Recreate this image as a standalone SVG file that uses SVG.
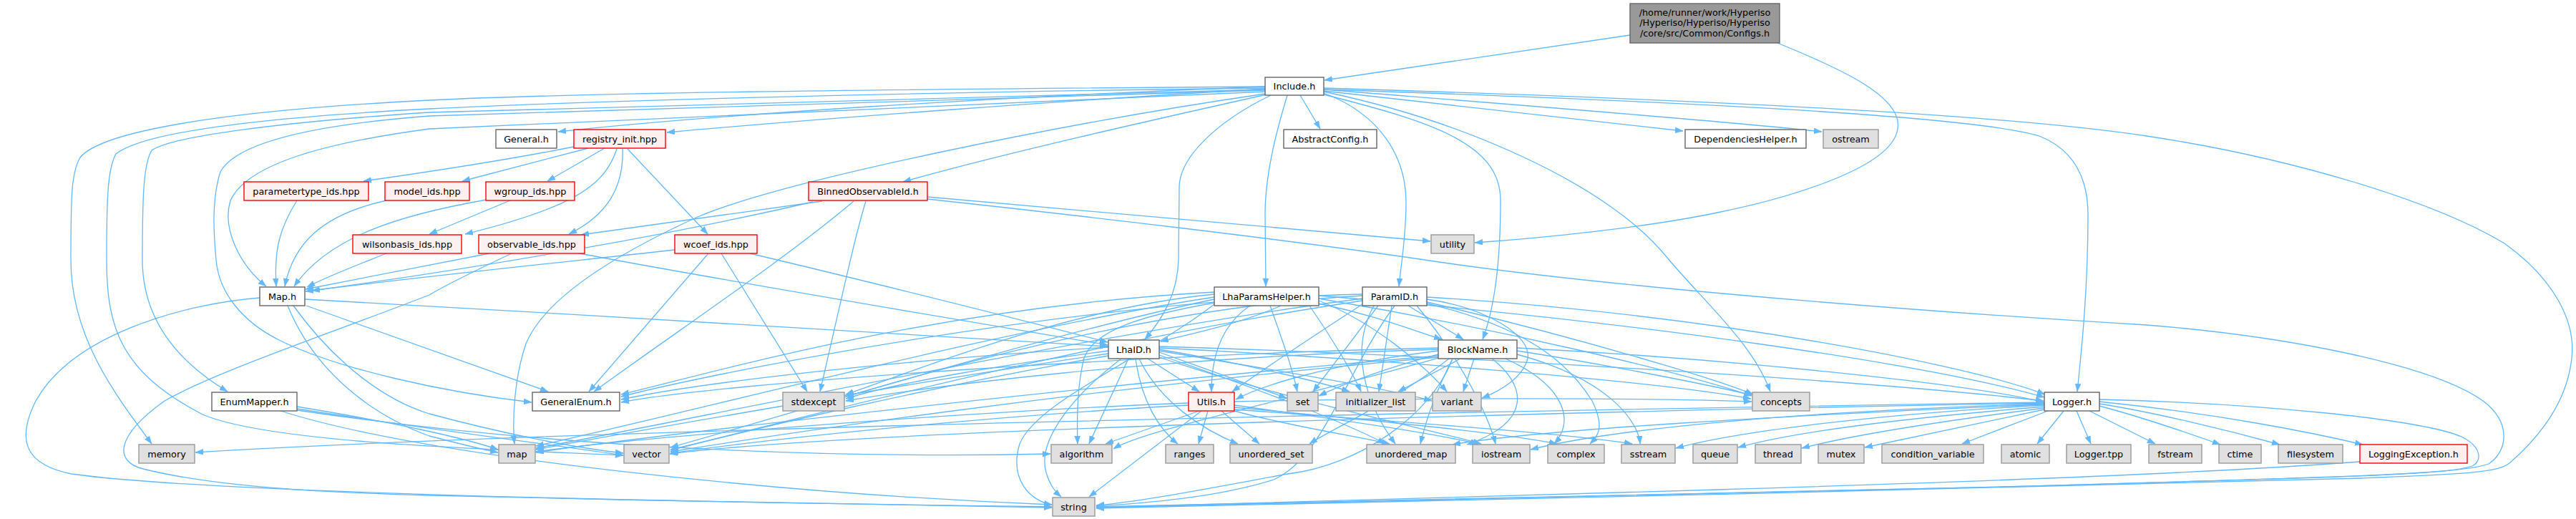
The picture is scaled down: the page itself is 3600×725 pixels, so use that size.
<svg xmlns="http://www.w3.org/2000/svg" width="3600" height="725" viewBox="0 0 3600 725">
<style>
rect{stroke-width:1.4}
.w rect{fill:#ffffff;stroke:#666666}
.r rect{fill:#fff0f0;stroke:#ff0000}
.g rect{fill:#e0e0e0;stroke:#999999}
.root rect{fill:#999999;stroke:#666666}
text{font-family:"DejaVu Sans","Liberation Sans",sans-serif;font-size:12.8px;fill:#000000;text-anchor:middle}
.e path{fill:none;stroke:#63b8ff;stroke-width:1.3;marker-end:url(#a)}
</style>
<defs>
<marker id="a" markerUnits="userSpaceOnUse" markerWidth="12" markerHeight="9" refX="11" refY="4" orient="auto">
<path d="M0,0 L11,4 L0,8 z" fill="#63b8ff" stroke="#63b8ff" stroke-width="0.5"/>
</marker>
</defs>
<rect width="3600" height="725" fill="#ffffff"/>
<g id="edges" class="e">
<path d="M2278,49 L1851,112"/>
<path d="M2484,60 C2570,95 2660,135 2652,180 C2644,240 2470,283 2400,297 C2300,318 2150,333 2061,339"/>
<path d="M1768,121 C1400,135 1000,160 780,184"/>
<path d="M1768,124 C1500,140 1150,165 932,185"/>
<path d="M1770,132 C1600,170 1400,215 1262,254"/>
<path d="M1817,133 L1845,180"/>
<path d="M1850,127 L2352,183"/>
<path d="M1850,125 C2100,145 2400,168 2546,184"/>
<path d="M1776,133 C1700,170 1648,220 1648,262 L1647,362 C1646,410 1625,445 1600,474"/>
<path d="M1799,133 C1785,180 1768,240 1768,300 L1769,400"/>
<path d="M1850,130 C1930,160 1965,220 1965,283 C1965,330 1958,370 1955,400"/>
<path d="M1850,132 C2000,170 2097,200 2097,280 C2097,380 2085,440 2072,474"/>
<path d="M1850,128 C2050,170 2250,260 2330,360 C2380,420 2450,480 2474,547"/>
<path d="M1850,125 C2300,140 2750,160 2850,190 C2900,210 2918,250 2918,300 C2918,400 2910,480 2903,547"/>
<path d="M1850,123 C2400,140 2800,160 3000,190 C3200,220 3400,280 3500,340 C3570,390 3600,450 3594,500 C3588,560 3550,610 3507,647 C3490,660 3450,662 3300,668 C2800,682 2000,700 1532,710"/>
<path d="M1768,131 C1500,170 1100,250 975,303 C850,360 760,420 735,480 C718,530 716,590 719,620"/>
<path d="M1768,121 C1200,125 800,130 600,140 C300,155 140,185 112,220 C100,240 99,270 99,363 C99,470 160,550 212,620"/>
<path d="M1768,123 C1200,130 800,142 600,152 C350,165 200,185 162,215 C151,235 149,270 149,363 C149,460 170,520 283,579 C380,620 700,628 871,636"/>
<path d="M1768,125 C1200,137 800,150 600,157 C400,170 240,190 212,210 C200,230 199,280 199,363 C199,440 240,500 318,547"/>
<path d="M1768,126 C1200,142 800,155 600,162 C430,175 330,200 308,240 C295,280 299,330 302,363 C306,410 340,450 390,475 C470,515 620,548 743,562"/>
<path d="M1768,128 C1200,150 750,170 600,180 C450,200 345,230 322,280 C310,320 335,370 372,400"/>
<path d="M802,205 C700,225 600,240 508,253"/>
<path d="M822,207 L646,253"/>
<path d="M845,207 L765,253"/>
<path d="M862,208 C845,260 800,290 650,327"/>
<path d="M870,208 C872,260 850,300 795,327"/>
<path d="M877,208 L989,327"/>
<path d="M415,280 C390,320 383,350 386,400"/>
<path d="M540,280 C450,300 410,340 398,400"/>
<path d="M680,279 C560,300 460,330 411,400"/>
<path d="M713,280 L600,327"/>
<path d="M540,354 C500,370 460,385 429,401"/>
<path d="M684,354 C600,370 500,390 427,404"/>
<path d="M810,354 C1000,390 1300,440 1548,482"/>
<path d="M715,354 C660,380 620,400 600,412 C450,470 300,520 230,560 C160,610 160,645 200,655 C300,680 450,688 600,692 C900,700 1300,705 1470,709"/>
<path d="M943,349 C800,365 600,385 427,407"/>
<path d="M990,354 L823,547"/>
<path d="M1008,354 L1128,547"/>
<path d="M1048,354 C1200,390 1400,440 1548,478"/>
<path d="M1149,281 L812,328"/>
<path d="M1136,282 C950,325 700,370 436,406"/>
<path d="M1193,281 C1100,360 950,460 830,547"/>
<path d="M1210,281 C1195,330 1180,400 1146,547"/>
<path d="M1296,275 L1999,337"/>
<path d="M1296,278 C1500,300 1800,335 1991,363 C2200,395 2600,430 3000,454 C3200,470 3400,510 3470,560 C3510,590 3505,630 3478,648 C3440,662 3300,666 2800,680 C2200,697 1700,706 1532,709"/>
<path d="M428,427 L766,547"/>
<path d="M402,427 C440,520 520,580 600,609 C650,622 675,628 696,632"/>
<path d="M410,427 C470,510 540,560 600,578 C700,605 800,625 871,633"/>
<path d="M363,416 C250,425 100,470 50,560 C20,620 40,650 100,662 C300,690 1000,702 1470,708"/>
<path d="M426,418 C800,440 1200,460 1548,484"/>
<path d="M415,568 C550,590 650,612 696,628"/>
<path d="M415,571 C600,600 780,622 871,636"/>
<path d="M392,574 C600,640 1100,690 1470,705"/>
<path d="M415,573 C800,630 1200,640 1468,634"/>
<path d="M1790,427 C1740,450 1670,465 1622,477"/>
<path d="M1747,427 C1705,455 1693,500 1693,547"/>
<path d="M1775,427 C1790,470 1805,510 1813,547"/>
<path d="M1843,424 C1920,440 1970,460 2015,474"/>
<path d="M1830,427 C1860,470 1890,520 1902,547"/>
<path d="M1843,420 C1920,450 1990,510 2022,547"/>
<path d="M1697,408 C1300,430 1000,520 868,551"/>
<path d="M1697,411 C1500,430 1300,510 1182,551"/>
<path d="M1697,415 C1400,460 950,580 749,623"/>
<path d="M1697,418 C1450,470 1100,580 937,625"/>
<path d="M1697,425 C1600,500 1450,560 1425,620 C1410,670 1440,700 1470,705"/>
<path d="M1697,423 C1600,440 1530,460 1515,500 C1505,540 1505,590 1506,620"/>
<path d="M1843,417 C2100,460 2350,520 2448,553"/>
<path d="M1843,413 C2300,450 2700,510 2857,555"/>
<path d="M1968,427 L2045,474"/>
<path d="M1945,427 L1927,547"/>
<path d="M1926,427 L1835,547"/>
<path d="M1994,418 C2080,430 2140,470 2135,500 C2130,525 2100,545 2071,556"/>
<path d="M1904,425 C1850,460 1760,520 1722,547"/>
<path d="M1904,411 C1500,420 1000,520 868,554"/>
<path d="M1904,413 C1600,430 1300,520 1182,554"/>
<path d="M1904,417 C1500,470 950,590 749,626"/>
<path d="M1904,420 C1500,480 1100,590 937,628"/>
<path d="M1949,427 C1880,520 1850,640 1780,670 C1700,695 1600,703 1532,707"/>
<path d="M1994,422 C2200,470 2400,530 2450,551"/>
<path d="M1994,415 C2400,440 2750,510 2858,551"/>
<path d="M1994,424 C2150,460 2200,520 2225,560 C2245,600 2230,612 2222,620"/>
<path d="M1920,427 C1880,500 1920,580 1950,620"/>
<path d="M1980,427 C2040,500 2080,580 2090,620"/>
<path d="M1567,501 C1490,560 1450,620 1462,660 C1468,680 1476,688 1483,694"/>
<path d="M1577,501 L1522,620"/>
<path d="M1587,501 C1595,560 1620,600 1646,620"/>
<path d="M1592,501 C1620,560 1680,600 1730,620"/>
<path d="M1604,501 L1676,547"/>
<path d="M1620,492 L1798,556"/>
<path d="M1620,490 C1800,520 1950,545 2001,560"/>
<path d="M1620,488 C1750,510 1850,535 1886,547"/>
<path d="M1620,486 C1900,500 2300,530 2447,557"/>
<path d="M1620,484 C2000,495 2600,530 2856,560"/>
<path d="M1620,496 C1750,540 1880,590 1936,620"/>
<path d="M1549,485 C1300,500 1000,530 868,558"/>
<path d="M1549,490 C1400,510 1250,535 1182,557"/>
<path d="M1549,494 C1300,530 900,600 749,628"/>
<path d="M1549,497 C1300,540 1050,600 937,629"/>
<path d="M1620,499 C1800,560 2000,600 2070,620"/>
<path d="M2060,501 L2045,547"/>
<path d="M2041,501 L1954,547"/>
<path d="M2010,495 C1950,510 1880,535 1843,553"/>
<path d="M2010,490 C1850,510 1760,540 1727,558"/>
<path d="M2010,486 C1600,495 1000,535 868,562"/>
<path d="M2010,488 C1600,500 1300,540 1182,560"/>
<path d="M2010,497 C1500,540 900,610 749,632"/>
<path d="M2010,499 C1500,545 1100,605 937,631"/>
<path d="M2030,501 C2000,580 1900,650 1800,662 C1700,680 1600,700 1532,706"/>
<path d="M2120,490 C2250,510 2400,540 2448,552"/>
<path d="M2120,486 C2400,500 2750,535 2856,562"/>
<path d="M2030,501 C2000,560 1990,600 1985,620"/>
<path d="M2085,501 C2135,540 2140,590 2050,621"/>
<path d="M2104,501 C2190,540 2200,590 2172,620"/>
<path d="M2120,495 C2250,530 2290,590 2292,620"/>
<path d="M2010,500 C1800,560 1600,600 1556,627"/>
<path d="M2025,501 C1950,560 1860,600 1830,620"/>
<path d="M1676,574 L1545,620"/>
<path d="M1688,574 L1675,620"/>
<path d="M1707,574 L1760,620"/>
<path d="M1679,574 L1522,694"/>
<path d="M1661,566 C1400,580 1100,610 937,633"/>
<path d="M1661,563 C1350,575 900,610 749,631"/>
<path d="M1725,566 C1900,590 2000,605 2066,620"/>
<path d="M1725,569 C1950,590 2100,605 2176,620"/>
<path d="M1725,572 C2000,592 2200,607 2281,620"/>
<path d="M1725,561 C2000,555 2300,556 2448,561"/>
<path d="M1725,574 C1800,595 1900,610 1942,620"/>
<path d="M2862,574 L2742,620"/>
<path d="M2884,574 L2847,620"/>
<path d="M2902,574 L2922,620"/>
<path d="M2920,574 L3012,620"/>
<path d="M2934,567 C2990,582 3050,602 3103,621"/>
<path d="M2934,564 C3010,576 3110,600 3186,621"/>
<path d="M2934,561 C3100,578 3230,604 3302,621"/>
<path d="M2934,558 C3150,563 3380,585 3440,610 C3470,625 3468,645 3455,651 C3420,663 3300,666 2800,680 C2200,697 1700,707 1532,708"/>
<path d="M2857,572 L2606,625"/>
<path d="M2857,570 C2700,590 2580,610 2518,626"/>
<path d="M2857,568 C2650,585 2500,605 2429,625"/>
<path d="M2857,566 C2600,580 2420,605 2342,626"/>
<path d="M2857,564 C2500,575 2250,600 2139,628"/>
<path d="M2857,562 C2000,575 800,600 273,632"/>
<path d="M2857,565 C2500,580 2150,600 2030,621"/>
<path d="M2857,563 C2200,575 1200,600 936,634"/>
<path d="M3298,645 C3100,660 2800,672 2400,684 C2000,696 1700,706 1532,709"/>
</g>
<g id="node_root" class="root"><rect x="2278" y="5" width="209" height="55"/><text x="2382.5" y="21.5">/home/runner/work/Hyperiso</text><text x="2382.5" y="36">/Hyperiso/Hyperiso/Hyperiso</text><text x="2382.5" y="50.5">/core/src/Common/Configs.h</text></g>
<g id="node_include" class="w"><rect x="1768" y="108" width="82" height="25"/><text x="1809" y="125">Include.h</text></g>
<g id="node_general" class="w"><rect x="693" y="181" width="85" height="26"/><text x="735.5" y="198.5">General.h</text></g>
<g id="node_registry" class="r"><rect x="802" y="181" width="128" height="26"/><text x="866" y="198.5">registry_init.hpp</text></g>
<g id="node_abstractconfig" class="w"><rect x="1794" y="181" width="130" height="26"/><text x="1859" y="198.5">AbstractConfig.h</text></g>
<g id="node_dependencies" class="w"><rect x="2355" y="181" width="169" height="26"/><text x="2439.5" y="198.5">DependenciesHelper.h</text></g>
<g id="node_ostream" class="g"><rect x="2548" y="181" width="77" height="26"/><text x="2586.5" y="198.5">ostream</text></g>
<g id="node_parametertype" class="r"><rect x="341" y="254" width="174" height="26"/><text x="428" y="271.5">parametertype_ids.hpp</text></g>
<g id="node_model" class="r"><rect x="538" y="254" width="118" height="26"/><text x="597" y="271.5">model_ids.hpp</text></g>
<g id="node_wgroup" class="r"><rect x="679" y="254" width="124" height="26"/><text x="741" y="271.5">wgroup_ids.hpp</text></g>
<g id="node_binned" class="r"><rect x="1130" y="254" width="166" height="26"/><text x="1213" y="271.5">BinnedObservableId.h</text></g>
<g id="node_wilsonbasis" class="r"><rect x="493" y="328" width="152" height="26"/><text x="569" y="345.5">wilsonbasis_ids.hpp</text></g>
<g id="node_observable" class="r"><rect x="669" y="328" width="148" height="26"/><text x="743" y="345.5">observable_ids.hpp</text></g>
<g id="node_wcoef" class="r"><rect x="943" y="328" width="115" height="26"/><text x="1000.5" y="345.5">wcoef_ids.hpp</text></g>
<g id="node_utility" class="g"><rect x="2000" y="328" width="60" height="26"/><text x="2030" y="345.5">utility</text></g>
<g id="node_map_h" class="w"><rect x="363" y="401" width="63" height="26"/><text x="394.5" y="418.5">Map.h</text></g>
<g id="node_lhaparams" class="w"><rect x="1697" y="401" width="146" height="26"/><text x="1770" y="418.5">LhaParamsHelper.h</text></g>
<g id="node_paramid" class="w"><rect x="1904" y="401" width="90" height="26"/><text x="1949" y="418.5">ParamID.h</text></g>
<g id="node_lhaid" class="w"><rect x="1549" y="475" width="71" height="26"/><text x="1584.5" y="492.5">LhaID.h</text></g>
<g id="node_blockname" class="w"><rect x="2010" y="475" width="110" height="26"/><text x="2065" y="492.5">BlockName.h</text></g>
<g id="node_enummapper" class="w"><rect x="296" y="548" width="119" height="26"/><text x="355.5" y="565.5">EnumMapper.h</text></g>
<g id="node_generalenum" class="w"><rect x="744" y="548" width="122" height="26"/><text x="805" y="565.5">GeneralEnum.h</text></g>
<g id="node_stdexcept" class="g"><rect x="1094" y="548" width="86" height="26"/><text x="1137" y="565.5">stdexcept</text></g>
<g id="node_utils" class="r"><rect x="1661" y="548" width="64" height="26"/><text x="1693" y="565.5">Utils.h</text></g>
<g id="node_set" class="g"><rect x="1799" y="548" width="43" height="26"/><text x="1820.5" y="565.5">set</text></g>
<g id="node_initializer_list" class="g"><rect x="1867" y="548" width="111" height="26"/><text x="1922.5" y="565.5">initializer_list</text></g>
<g id="node_variant" class="g"><rect x="2002" y="548" width="68" height="26"/><text x="2036" y="565.5">variant</text></g>
<g id="node_concepts" class="g"><rect x="2449" y="548" width="80" height="26"/><text x="2489" y="565.5">concepts</text></g>
<g id="node_logger" class="w"><rect x="2857" y="548" width="77" height="26"/><text x="2895.5" y="565.5">Logger.h</text></g>
<g id="node_memory" class="g"><rect x="194" y="621" width="78" height="26"/><text x="233" y="638.5">memory</text></g>
<g id="node_map" class="g"><rect x="697" y="621" width="51" height="26"/><text x="722.5" y="638.5">map</text></g>
<g id="node_vector" class="g"><rect x="872" y="621" width="63" height="26"/><text x="903.5" y="638.5">vector</text></g>
<g id="node_algorithm" class="g"><rect x="1469" y="621" width="85" height="26"/><text x="1511.5" y="638.5">algorithm</text></g>
<g id="node_ranges" class="g"><rect x="1629" y="621" width="67" height="26"/><text x="1662.5" y="638.5">ranges</text></g>
<g id="node_unordered_set" class="g"><rect x="1719" y="621" width="115" height="26"/><text x="1776.5" y="638.5">unordered_set</text></g>
<g id="node_unordered_map" class="g"><rect x="1910" y="621" width="124" height="26"/><text x="1972" y="638.5">unordered_map</text></g>
<g id="node_iostream" class="g"><rect x="2058" y="621" width="80" height="26"/><text x="2098" y="638.5">iostream</text></g>
<g id="node_complex" class="g"><rect x="2163" y="621" width="79" height="26"/><text x="2202.5" y="638.5">complex</text></g>
<g id="node_sstream" class="g"><rect x="2266" y="621" width="75" height="26"/><text x="2303.5" y="638.5">sstream</text></g>
<g id="node_queue" class="g"><rect x="2366" y="621" width="62" height="26"/><text x="2397" y="638.5">queue</text></g>
<g id="node_thread" class="g"><rect x="2453" y="621" width="64" height="26"/><text x="2485" y="638.5">thread</text></g>
<g id="node_mutex" class="g"><rect x="2541" y="621" width="64" height="26"/><text x="2573" y="638.5">mutex</text></g>
<g id="node_condvar" class="g"><rect x="2630" y="621" width="142" height="26"/><text x="2701" y="638.5">condition_variable</text></g>
<g id="node_atomic" class="g"><rect x="2797" y="621" width="67" height="26"/><text x="2830.5" y="638.5">atomic</text></g>
<g id="node_loggertpp" class="g"><rect x="2888" y="621" width="90" height="26"/><text x="2933" y="638.5">Logger.tpp</text></g>
<g id="node_fstream" class="g"><rect x="3003" y="621" width="74" height="26"/><text x="3040" y="638.5">fstream</text></g>
<g id="node_ctime" class="g"><rect x="3101" y="621" width="59" height="26"/><text x="3130.5" y="638.5">ctime</text></g>
<g id="node_filesystem" class="g"><rect x="3184" y="621" width="90" height="26"/><text x="3229" y="638.5">filesystem</text></g>
<g id="node_loggingexception" class="r"><rect x="3298" y="621" width="150" height="26"/><text x="3373" y="638.5">LoggingException.h</text></g>
<g id="node_string" class="g"><rect x="1471" y="695" width="59" height="26"/><text x="1500.5" y="712.5">string</text></g>
</svg>
